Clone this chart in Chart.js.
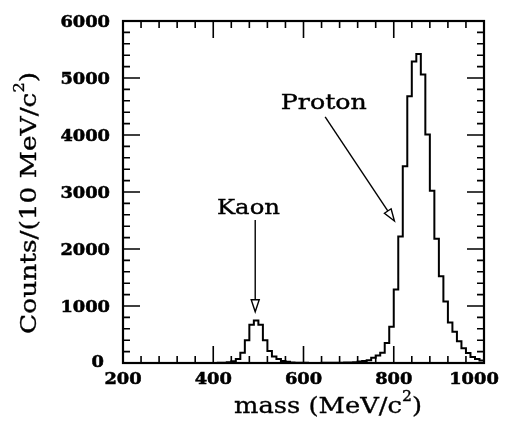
<!DOCTYPE html>
<html>
<head>
<meta charset="utf-8">
<script src="https://cdn.jsdelivr.net/npm/chart.js@4"></script>
<style>
  html, body { margin: 0; padding: 0; background: #fff; }
  #wrap { width: 507px; height: 434px; }
</style>
</head>
<body>
<div id="wrap"><canvas id="chart" width="507" height="434"></canvas></div>
<script>
// Invariant-mass histogram, 10 MeV/c^2 bins from 200 to 1000 MeV/c^2
const massEdges = [
  200, 210, 220, 230, 240, 250, 260, 270, 280, 290,
  300, 310, 320, 330, 340, 350, 360, 370, 380, 390,
  400, 410, 420, 430, 440, 450, 460, 470, 480, 490,
  500, 510, 520, 530, 540, 550, 560, 570, 580, 590,
  600, 610, 620, 630, 640, 650, 660, 670, 680, 690,
  700, 710, 720, 730, 740, 750, 760, 770, 780, 790,
  800, 810, 820, 830, 840, 850, 860, 870, 880, 890,
  900, 910, 920, 930, 940, 950, 960, 970, 980, 990,
  1000
];

// Entries per bin (bin i spans massEdges[i] .. massEdges[i+1])
const counts = [
  0, 0, 0, 0, 0, 0, 0, 0, 0, 0,
  0, 0, 0, 0, 0, 0, 0, 0, 0, 0,
  2, 3, 5, 12, 30, 70, 180, 400, 670, 745,
  670, 400, 210, 115, 70, 35, 20, 10, 6, 4,
  3, 2, 2, 2, 3, 3, 4, 5, 6, 8,
  10, 15, 25, 35, 50, 90, 130, 180, 350, 635,
  1290, 2220, 3450, 4680, 5290, 5420, 5060, 4010, 3020, 2180,
  1520, 1080, 710, 550, 380, 260, 175, 105, 70, 45
];

const xTickValues = [200, 400, 600, 800, 1000];
const xTickLabels = ['200', '400', '600', '800', '1000'];
const yTickValues = [0, 1000, 2000, 3000, 4000, 5000, 6000];
const yTickLabels = ['0', '1000', '2000', '3000', '4000', '5000', '6000'];
const xMinorStep = 40;
const yMinorStep = 200;

const xTitle = [['mass (MeV/c', 1], ['2', 0], [')', 1]];
const yTitle = [['Counts/(10 MeV/c', 1], ['2', 0], [')', 1]];

// Peak annotations: label anchor and arrow (tail -> head) in data units
const peakNames = ['Kaon', 'Proton'];
const peakLabelAt = [[478, 2615], [645, 4455]];
const peakArrowFrom = [[493, 2510], [648, 4319]];
const peakArrowTo = [[493, 898], [801.5, 2492]];

const histPoints = massEdges.map((m, i) => ({ x: m, y: i < counts.length ? counts[i] : 0 }));

const SERIF = '"DejaVu Serif", "Liberation Serif", serif';

// Draws a run of text pieces (normal / superscript); the run is stretched
// horizontally to span `width` pixels.
function drawRun(ctx, pieces, x, y, size, width, align, rotation, bold, weight) {
  ctx.save();
  ctx.translate(x, y);
  if (rotation) ctx.rotate(rotation);
  const w = bold ? 'bold ' : '';
  const fonts = pieces.map(p => p[1] ? `${w}${size}px ${SERIF}` : `${w}${Math.round(size * 0.62)}px ${SERIF}`);
  const widths = pieces.map((p, i) => { ctx.font = fonts[i]; return ctx.measureText(p[0]).width; });
  const total = widths.reduce((a, b) => a + b, 0);
  const sx = width / total;
  ctx.scale(sx, 1);
  let cx = align === 'center' ? -total / 2 : align === 'right' ? -total : 0;
  ctx.textBaseline = 'alphabetic';
  ctx.textAlign = 'left';
  ctx.fillStyle = '#000';
  ctx.strokeStyle = '#000';
  ctx.lineWidth = weight || 0;
  pieces.forEach((p, i) => {
    ctx.font = fonts[i];
    const ty = p[1] ? 0 : -size * 0.52;
    ctx.fillText(p[0], cx, ty);
    if (weight) ctx.strokeText(p[0], cx, ty);
    cx += widths[i];
  });
  ctx.restore();
}

function drawArrow(ctx, x1, y1, x2, y2, headLen, headHalf) {
  const ang = Math.atan2(y2 - y1, x2 - x1);
  const bx = x2 - headLen * Math.cos(ang), by = y2 - headLen * Math.sin(ang);
  const px = -Math.sin(ang) * headHalf, py = Math.cos(ang) * headHalf;
  ctx.beginPath();
  ctx.moveTo(x1, y1);
  ctx.lineTo(bx, by);
  ctx.stroke();
  ctx.beginPath();
  ctx.moveTo(x2, y2);
  ctx.lineTo(bx + px, by + py);
  ctx.lineTo(bx - px, by - py);
  ctx.closePath();
  ctx.stroke();
}

const framePlugin = {
  id: 'frame',
  afterDatasetsDraw(chart) {
    const { ctx, chartArea: a, scales: { x, y } } = chart;
    ctx.save();
    ctx.strokeStyle = '#000';
    ctx.lineCap = 'butt';

    // tick marks on all four sides, pointing inward
    ctx.lineWidth = 1.6;
    ctx.beginPath();
    for (let v = x.min; v <= x.max + 1e-6; v += xMinorStep) {
      const px = x.getPixelForValue(v);
      const len = xTickValues.includes(v) ? 17 : 7;
      ctx.moveTo(px, a.bottom); ctx.lineTo(px, a.bottom - len);
      ctx.moveTo(px, a.top); ctx.lineTo(px, a.top + len);
    }
    for (let v = y.min; v <= y.max + 1e-6; v += yMinorStep) {
      const py = y.getPixelForValue(v);
      const len = yTickValues.includes(v) ? 17 : 7;
      ctx.moveTo(a.left, py); ctx.lineTo(a.left + len, py);
      ctx.moveTo(a.right, py); ctx.lineTo(a.right - len, py);
    }
    ctx.stroke();

    // frame
    ctx.lineWidth = 2.2;
    ctx.strokeRect(a.left, a.top, a.right - a.left, a.bottom - a.top);

    // tick labels
    xTickValues.forEach((v, i) => {
      let px = x.getPixelForValue(v);
      if (i === xTickValues.length - 1) px -= 10;
      const wpx = xTickLabels[i].length * 12.4;
      drawRun(ctx, [[xTickLabels[i], 1]], px, a.bottom + 21, 16, wpx, 'center', 0, true, 0.5);
    });
    yTickValues.forEach((v, i) => {
      const py = y.getPixelForValue(v);
      const dx = i === 0 ? -19 : -13;
      const dy = i === 0 ? 4 : 6;
      const wpx = yTickLabels[i].length * 12.4;
      drawRun(ctx, [[yTickLabels[i], 1]], a.left + dx, py + dy, 16, wpx, 'right', 0, true, 0.5);
    });

    // axis titles
    drawRun(ctx, xTitle, 328, 413, 23, 188, 'center', 0, false, 0.35);
    drawRun(ctx, yTitle, 36, 203, 23, 262, 'center', -Math.PI / 2, false, 0.35);

    // peak labels and arrows
    peakNames.forEach((name, i) => {
      const wpx = i === 0 ? 63 : 86;
      drawRun(ctx, [[name, 1]], x.getPixelForValue(peakLabelAt[i][0]), y.getPixelForValue(peakLabelAt[i][1]), 21, wpx, 'center', 0, false, 0.4);
      ctx.lineWidth = 1.4;
      drawArrow(ctx,
        x.getPixelForValue(peakArrowFrom[i][0]), y.getPixelForValue(peakArrowFrom[i][1]),
        x.getPixelForValue(peakArrowTo[i][0]), y.getPixelForValue(peakArrowTo[i][1]),
        12, 4);
    });
    ctx.restore();
  }
};

new Chart(document.getElementById('chart'), {
  type: 'line',
  data: {
    datasets: [{
      data: histPoints,
      stepped: 'before',
      borderColor: '#000',
      borderWidth: 2,
      pointRadius: 0,
      fill: false,
      tension: 0,
      clip: false
    }]
  },
  options: {
    responsive: false,
    devicePixelRatio: 1,
    animation: false,
    layout: { padding: { left: 123, right: 23, top: 21, bottom: 71 } },
    plugins: { legend: { display: false }, tooltip: { enabled: false } },
    scales: {
      x: { type: 'linear', min: 200, max: 1000, display: false },
      y: { type: 'linear', min: 0, max: 6000, display: false }
    }
  },
  plugins: [framePlugin]
});
</script>
</body>
</html>
